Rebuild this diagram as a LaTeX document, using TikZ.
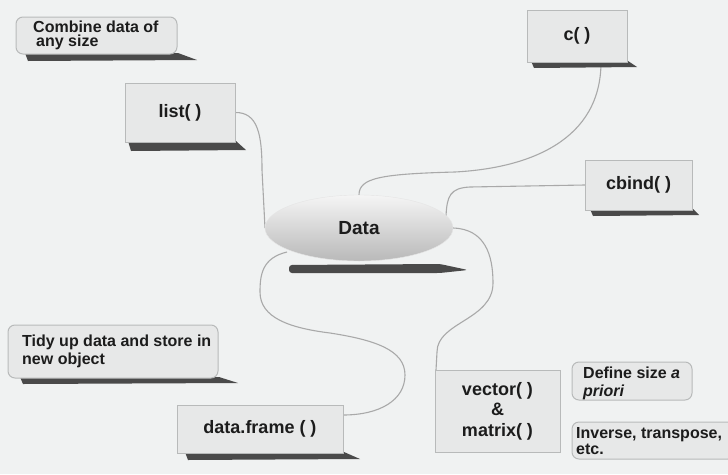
\documentclass[tikz,border=0pt]{standalone}
\usepackage{fontspec}
\setmainfont{Liberation Sans}
\usetikzlibrary{calc,shapes.geometric}
\definecolor{bg}{HTML}{F0F2F2}
\definecolor{boxfill}{HTML}{E7E8E8}
\definecolor{boxline}{HTML}{B8BABA}
\definecolor{shadowc}{HTML}{4A4A4A}
\definecolor{linkc}{HTML}{A9A9A9}
\definecolor{txt}{HTML}{1C1C1C}
\begin{document}
\begin{tikzpicture}[x=1pt,y=-1pt,
  box/.style={draw=boxline, line width=1pt, fill=boxfill, inner sep=0pt, text=txt,
    align=center, font=\bfseries\fontsize{18}{20.5}\selectfont},
  notebox/.style={draw=boxline, line width=1pt, fill=boxfill, inner sep=0pt, rounded corners=7pt},
  notetext/.style={anchor=west, inner sep=0pt, align=left, text=txt, font=\bfseries\fontsize{16}{17}\selectfont},
  link/.style={draw=linkc, line width=1.1pt},
  shadowfill/.style={fill=shadowc}
]
\fill[bg] (0,0) rectangle (728,474);
\useasboundingbox (0,0) rectangle (728,474);

% ---------- connectors ----------
\coordinate (listP) at (235,112.5);
\coordinate (cP) at (601,62);
\coordinate (cbP) at (585,185);
\coordinate (vecP) at (436,370);
\coordinate (dfP) at (343,415);
\coordinate (dW) at (265,228);
\coordinate (dN) at (359,195);
\coordinate (dE) at (453,228);
\coordinate (dR) at (446,216);
\coordinate (dLL) at (287,252);

\draw[link] (listP) .. controls (258,112) and (262,135) .. (262,170) -- (dW);
\draw[link] (cP) .. controls (601,140) and (530,168) .. (455,172) .. controls (380,174) and (359,178) .. (dN);
\draw[link] (cbP) -- (470,187) .. controls (450,188) and (447,196) .. (dR);
\draw[link] (dE) .. controls (485,229) and (493,255) .. (493,283) .. controls (493,320) and (437,322) .. (437,352) -- (vecP);
\draw[link] (dLL) .. controls (262,258) and (260,275) .. (260,292) .. controls (260,318) and (290,328) .. (330,333) .. controls (375,340) and (405,350) .. (405,375) .. controls (405,400) and (380,415) .. (dfP);

% ---------- shadows ----------
\fill[shadowfill] (25,53) -- (178,53) -- (197,60) -- (28,61) -- cycle;
\fill[shadowfill] (128,141) -- (236,141) -- (246,150) -- (131,151) -- cycle;
\fill[shadowfill] (531,61) -- (628,61) -- (637,67) -- (534,68) -- cycle;
\fill[shadowfill] (590,209) -- (693,209) -- (699,215) -- (593,216) -- cycle;
\fill[shadowfill] (20,377) -- (219,377) -- (238,383) -- (23,384) -- cycle;
\fill[shadowfill] (185,452) -- (344,452) -- (360,459) -- (188,460) -- cycle;
\fill[shadowfill, rounded corners=3pt] (289,265) -- (440,264) -- (468,270) -- (440,273) -- (289,273) -- cycle;

% ---------- main nodes ----------
\node[ellipse, minimum width=188pt, minimum height=66pt, inner sep=0pt,
      top color=gray!8, bottom color=gray!55, draw=gray!20, text=txt,
      font=\bfseries\fontsize{19}{20}\selectfont] (data) at (359,228) {Data};

\node[box, minimum width=110pt, minimum height=59pt] (list) at (180,112.5) {list( )};
\node[box, minimum width=100pt, minimum height=52pt] (c) at (577,36) {c( )};
\node[box, minimum width=107pt, minimum height=50pt] (cbind) at (638.5,185) {cbind( )};
\node[box, minimum width=166pt, minimum height=48pt] (df) at (260,429) {data.frame ( )};
\node[box, minimum width=125pt, minimum height=82pt] (vec) at (497.5,411) {vector( )\\\&\\matrix( )};

% ---------- notes ----------
\node[notebox, minimum width=161pt, minimum height=37pt] (combine) at (96.5,35.5) {};
\node[notetext, font=\bfseries\fontsize{16}{14.5}\selectfont] (combinetxt) at (33,35.5) {Combine data of\\\hspace{3pt}any size};

\node[notebox, minimum width=210pt, minimum height=53pt] (tidy) at (113,351.5) {};
\node[notetext, font=\bfseries\fontsize{16}{18}\selectfont] (tidytxt) at (22,351) {Tidy up data and store in\\new object};

\node[notebox, minimum width=120pt, minimum height=38pt] (define) at (632,381) {};
\node[notetext, font=\bfseries\fontsize{16}{18}\selectfont] (definetxt) at (583,383) {Define size \textit{a}\\\textit{priori}};

\node[notebox, minimum width=163pt, minimum height=37pt] (inverse) at (653.5,440.5) {};
\node[notetext, font=\bfseries\fontsize{16}{16}\selectfont] (inversetxt) at (576,441) {Inverse, transpose,\\etc.};
\end{tikzpicture}
\end{document}
